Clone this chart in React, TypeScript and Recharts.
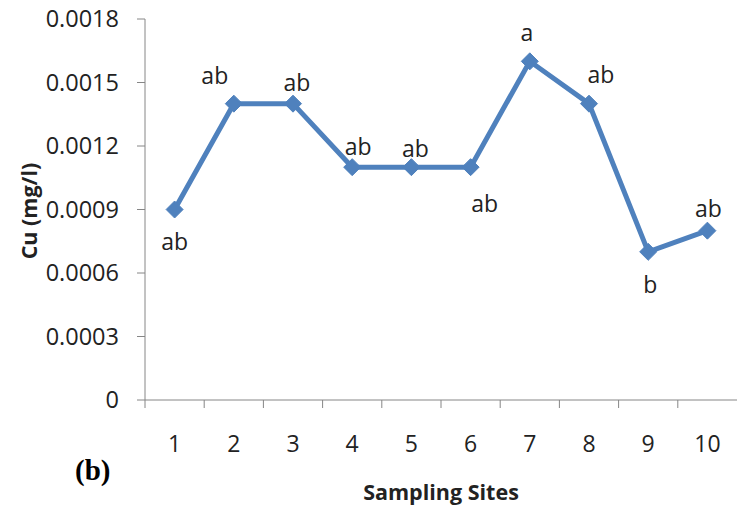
import { LineChart, Line, XAxis, YAxis } from "recharts";

// Cu concentration per sampling site
const sites = ["1", "2", "3", "4", "5", "6", "7", "8", "9", "10"];
const cuValues = [0.0009, 0.0014, 0.0014, 0.0011, 0.0011, 0.0011, 0.0016, 0.0014, 0.0007, 0.0008];
const groupLetters = ["ab", "ab", "ab", "ab", "ab", "ab", "a", "ab", "b", "ab"];
const yTicks = [0, 0.0003, 0.0006, 0.0009, 0.0012, 0.0015, 0.0018];

// hand-placed letter positions relative to each point (dx, dy in px)
const letterNudge: [number, number][] = [
  [0, 31], [-19, -29], [4, -22], [6, -21], [4, -19],
  [14, 36], [-3, -29], [12, -30], [2, 32], [1, -23],
];

const data = sites.map((site, i) => ({
  site,
  cu: cuValues[i],
  letter: groupLetters[i],
}));

const FONT = "'Open Sans', 'Noto Sans', sans-serif";
const AXIS_GRAY = "#868686";
const TEXT = "#222";
const BLUE = "#4F81BD";

const Diamond = (props: any) => {
  const { cx, cy } = props;
  if (cx == null || cy == null) return null;
  const r = 8.5;
  return (
    <path
      d={`M${cx},${cy - r} L${cx + r},${cy} L${cx},${cy + r} L${cx - r},${cy} Z`}
      fill={BLUE}
      stroke={BLUE}
    />
  );
};

const LetterLabel = (props: any) => {
  const { x, y, index } = props;
  const [dx, dy] = letterNudge[index];
  return (
    <text
      x={x + dx}
      y={y + dy}
      textAnchor="middle"
      dominantBaseline="central"
      fontSize={23}
      fontFamily={FONT}
      fill={TEXT}
    >
      {data[index].letter}
    </text>
  );
};

// category ticks: mark at the left boundary of each band, label at centre
const SiteTick = (props: any) => {
  const { x, y, payload } = props;
  const band = 59.2;
  return (
    <g>
      <line x1={x - band / 2} y1={y - 8} x2={x - band / 2} y2={y} stroke={AXIS_GRAY} />
      <text x={x} y={y + 44} textAnchor="middle" fontSize={23} fontFamily={FONT} fill={TEXT}>
        {payload.value}
      </text>
    </g>
  );
};

export default function App() {
  return (
    <div style={{ position: "absolute", left: 0, top: 0, width: 742, height: 510, background: "#fff" }}>
      <LineChart
        width={742}
        height={510}
        data={data}
        margin={{ top: 19, right: 5, bottom: 80, left: 0 }}
      >
        <XAxis
          dataKey="site"
          height={30}
          stroke={AXIS_GRAY}
          tickLine={false}
          tick={<SiteTick />}
          interval={0}
          padding={{ left: 29.6, right: 29.6 }}
          label={{
            content: () => (
              <text x={441} y={500} textAnchor="middle" fontSize={21.5} fontWeight="bold" fontFamily={FONT} fill={TEXT}>
                Sampling Sites
              </text>
            ),
          }}
        />
        <YAxis
          width={145}
          domain={[0, 0.0018]}
          ticks={yTicks}
          interval={0}
          stroke={AXIS_GRAY}
          tickSize={8}
          tickMargin={18}
          tick={{ fontSize: 23.5, fontFamily: FONT, fill: TEXT }}
          tickFormatter={(v: number) => (v === 0 ? "0" : v.toFixed(4))}
          label={{
            content: () => (
              <text
                x={28}
                y={211}
                transform="rotate(-90, 28, 211)"
                textAnchor="middle"
                dominantBaseline="central"
                fontSize={21.5}
                fontWeight="bold"
                fontFamily={FONT}
                fill={TEXT}
              >
                Cu (mg/l)
              </text>
            ),
          }}
        />
        <Line
          type="linear"
          dataKey="cu"
          stroke={BLUE}
          strokeWidth={5}
          dot={<Diamond />}
          activeDot={false}
          isAnimationActive={false}
          label={<LetterLabel />}
        />
      </LineChart>
      <div
        style={{
          position: "absolute",
          left: 75,
          top: 455,
          lineHeight: "30px",
          fontFamily: "'Liberation Serif', 'Times New Roman', serif",
          fontWeight: "bold",
          fontSize: 29,
          color: "#000",
        }}
      >
        (b)
      </div>
    </div>
  );
}
